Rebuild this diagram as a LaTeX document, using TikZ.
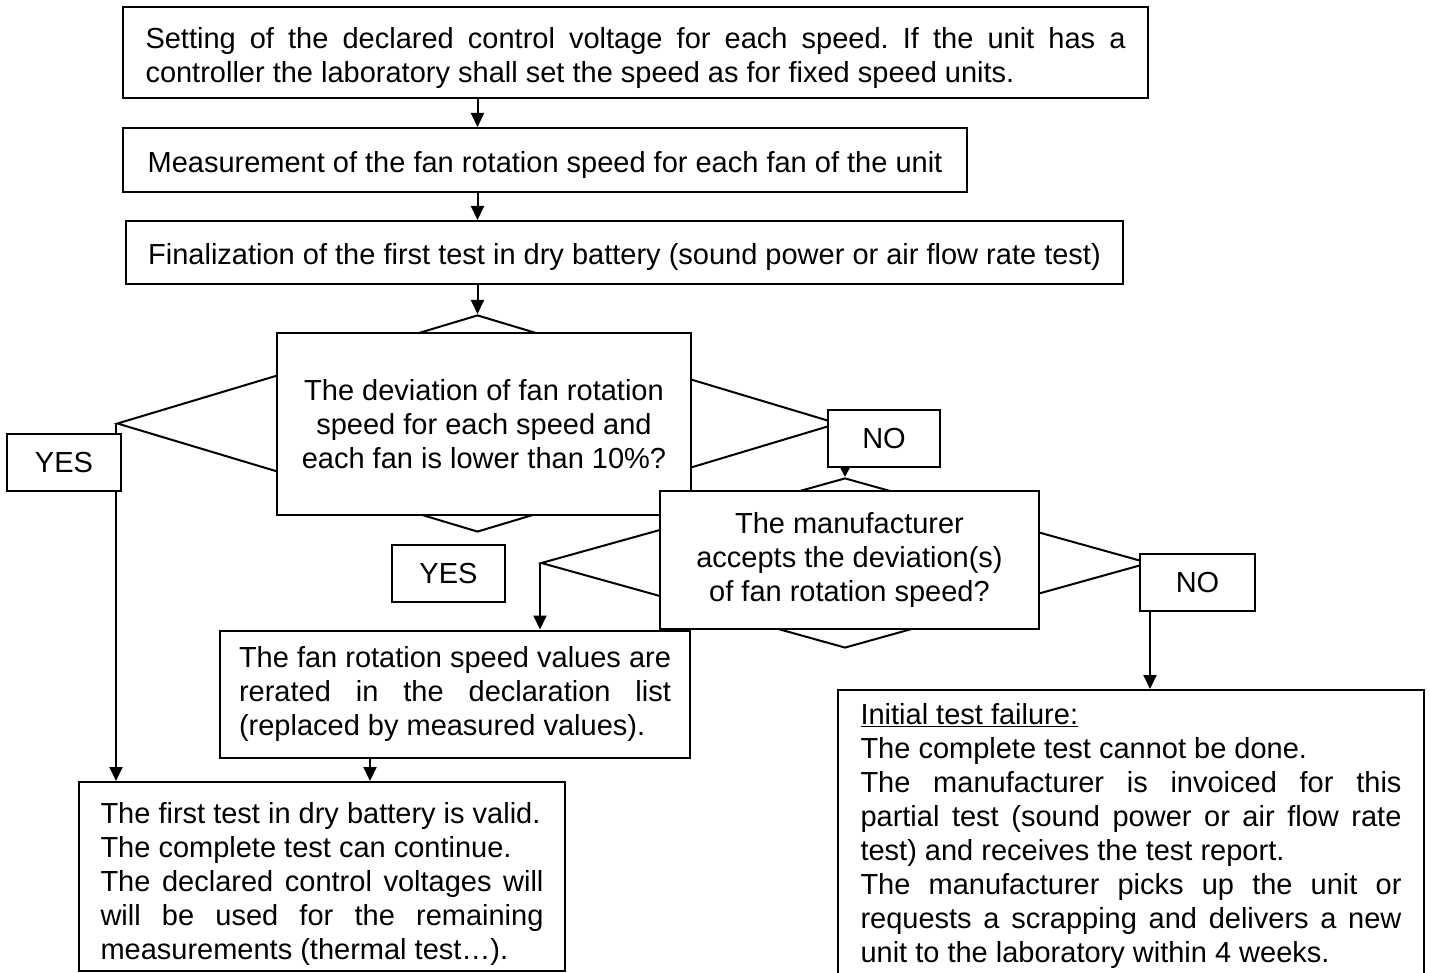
\documentclass[tikz,border=0pt]{standalone}
\usepackage{fontspec}
\setmainfont{Liberation Sans}
\usetikzlibrary{shapes.geometric,arrows.meta}
\hfuzz=20pt
\hbadness=10000
\frenchspacing
\begin{document}
\begin{tikzpicture}[x=1pt,y=-1pt,
  every node/.style={font=\fontsize{29}{34}\selectfont},
  box/.style={draw, line width=2pt, fill=white, inner sep=0pt},
  dia/.style={draw, line width=2pt, diamond, inner sep=0pt},
  lbl/.style={box, minimum height=57pt},
  arr/.style={line width=2pt, -{Triangle[length=14pt,width=13pt]}},
  sarr/.style={line width=2pt, -{Triangle[length=10pt,width=10pt]}},
  ln/.style={line width=2pt}
]
\useasboundingbox (0,0) rectangle (1430,973);

% decision diamonds (drawn first, partly hidden by the boxes)
\node[dia, minimum width=721pt, minimum height=217pt] (d1) at (477.5,423.5) {};
\node[dia, minimum width=608pt, minimum height=170pt] (d2) at (845,563) {};

% process boxes
\node[box, minimum width=1025pt, minimum height=91pt, text width=980pt, align=justify, text depth=30pt] (b1) at (635.5,52.5)
  {Setting of the declared control voltage for each speed. If the unit has a\linebreak controller the laboratory shall set the speed as for fixed speed units.};
\node[box, minimum width=844pt, minimum height=64pt, text height=25pt, text depth=0pt] (b2) at (545,160)
  {Measurement of the fan rotation speed for each fan of the unit};
\node[box, minimum width=997pt, minimum height=63pt, text height=25pt, text depth=0pt] (b3) at (624.5,252.5)
  {Finalization of the first test in dry battery (sound power or air flow rate test)};

% question boxes
\node[box, minimum width=414pt, minimum height=182pt, align=center] (q1) at (484,424)
  {The deviation of fan rotation\\speed for each speed and\\each fan is lower than 10\%?};
\node[box, minimum width=379pt, minimum height=138pt, align=center] (q2) at (849.5,560)
  {The manufacturer\\accepts the deviation(s)\\of fan rotation speed?};

% answer labels
\node[lbl, minimum width=114pt] (y1) at (64,462.5) {YES};
\node[lbl, minimum width=112pt] (n1) at (884,438.5) {NO};
\node[lbl, minimum width=113pt] (y2) at (448.5,573.5) {YES};
\node[lbl, minimum width=115pt] (n2) at (1197.5,582.5) {NO};

% result boxes
\node[box, minimum width=470pt, minimum height=127pt, text width=432pt, align=justify] (r) at (455,694)
  {The fan rotation speed values are\linebreak rerated in the declaration list\linebreak (replaced by measured values).};
\node[box, minimum width=486pt, minimum height=189pt, text width=443pt, align=justify, text depth=128pt] (v) at (322,876.5)
  {The first test in dry battery is valid.\\The complete test can continue.\\The declared control voltages will\linebreak will be used for the remaining\linebreak measurements (thermal test…).};
\node[box, anchor=north, minimum width=586pt, minimum height=292pt, text width=541pt, align=justify] (f) at (1131,689)
  {\underline{Initial test failure:}\\The complete test cannot be done.\\The manufacturer is invoiced for this\linebreak partial test (sound power or air flow rate\linebreak test) and receives the test report.\\The manufacturer picks up the unit or\linebreak requests a scrapping and delivers a new\linebreak unit to the laboratory within 4 weeks.};

% connectors
\coordinate (rv) at (370,0);
\draw[arr] (b1.south -| d1.north) -- (b2.north -| d1.north);
\draw[arr] (b2.south -| d1.north) -- (b3.north -| d1.north);
\draw[arr] (b3.south -| d1.north) -- (d1.north);
\draw[ln] (d1.west) -- (d1.west |- y1.north);
\draw[arr] (d1.west |- y1.south) -- (d1.west |- v.north);
\draw[sarr] (n1.south -| d2.north) -- (d2.north);
\draw[arr] (d2.west) -- (d2.west |- r.north);
\draw[arr] (r.south -| rv) -- (v.north -| rv);
\draw[arr] (d2.east |- n2.south) -- (d2.east |- f.north);
\end{tikzpicture}
\end{document}
